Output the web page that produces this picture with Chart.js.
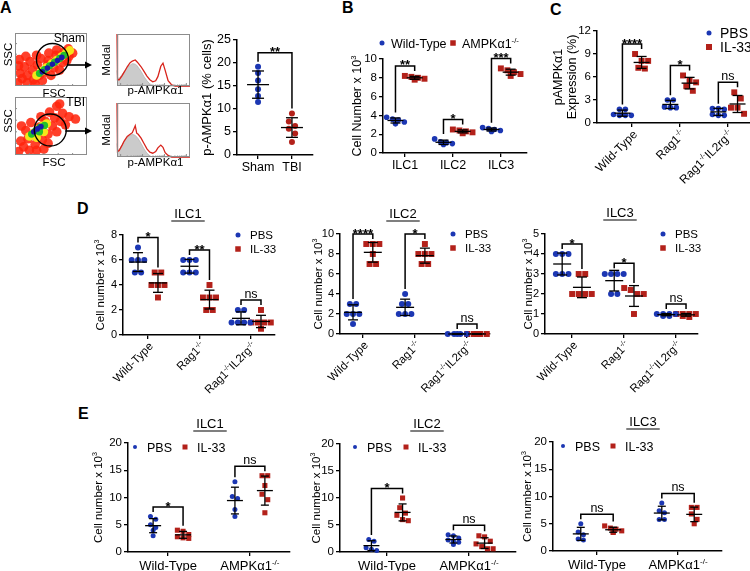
<!DOCTYPE html>
<html>
<head>
<meta charset="utf-8">
<title>AMPKa1 in ILCs</title>
<script src="https://cdn.jsdelivr.net/npm/chart.js@4.4.1/dist/chart.umd.min.js"></script>
<style>
    html, body { margin: 0; padding: 0; background: #fff; }
    body { position: relative; width: 750px; height: 571px; overflow: hidden; }
    canvas { position: absolute; left: 0; top: 0; }
    .panel { position: absolute; font: bold 16px "Liberation Sans", Arial, sans-serif; line-height: 16px; }
</style>
</head>
<body>
<div class="panel" style="left:0px;top:0px">A</div>
<div class="panel" style="left:342px;top:0px">B</div>
<div class="panel" style="left:550px;top:2px">C</div>
<div class="panel" style="left:77px;top:201px">D</div>
<div class="panel" style="left:78px;top:406px">E</div>
<script>
'use strict';

// ---------- A ----------
var aCats = ['Sham', 'TBI'];
var aSham = [19.2, 17.8, 16.2, 14.3, 12.8, 11.5];
var aTbi = [9.0, 7.3, 6.3, 5.7, 4.7, 2.8];
var aSig = ['**'];

// flow density blobs (x, y in % of plot)
var shamBlue = [[38, 27], [45, 34], [52, 41], [59, 48], [65, 54]];
var shamGreen = [[34, 24], [41, 31], [48, 38], [55, 45], [62, 52], [68, 58]];
var shamYellow = [[30, 20], [37, 28], [44, 35], [51, 42], [58, 49], [65, 56], [71, 62], [76, 67]];
var shamRedDots = [[4, 6], [10, 14], [17, 6], [7, 24], [17, 20], [26, 12], [24, 30], [34, 20], [13, 36], [31, 40],
    [42, 26], [46, 48], [54, 34], [57, 58], [66, 44], [68, 64], [75, 56], [74, 70], [38, 10], [50, 20], [62, 30],
    [72, 48], [36, 52], [47, 62], [58, 68], [21, 46], [28, 4], [5, 38], [45, 40], [6, 50], [15, 56], [30, 58], [80, 62]];
var shamGate = [52, 50];

var tbiBlue = [[26, 40], [31, 45], [36, 49]];
var tbiGreen = [[23, 36], [29, 42], [35, 48], [41, 51], [34, 40]];
var tbiYellow = [[20, 32], [26, 38], [32, 44], [38, 50], [44, 54], [30, 30], [40, 40]];
var tbiRedDots = [[5, 6], [12, 14], [20, 8], [8, 24], [18, 28], [28, 18], [26, 36], [38, 26], [15, 42], [34, 48],
    [46, 36], [42, 58], [52, 50], [55, 64], [63, 58], [66, 72], [75, 66], [30, 8], [46, 20], [58, 40], [70, 52],
    [84, 62], [48, 74], [58, 84], [9, 50], [22, 56], [40, 10], [36, 66], [62, 88]];
var tbiGate = [49, 43];

// histograms (x in % of axis, y in % of max)
var histX    = [0, 0.7, 3, 7, 10, 14, 18, 21, 25, 27, 29, 33, 37, 41, 45, 49, 53, 56, 60, 63, 66, 70, 75, 80, 100];
var shamRed  = [100, 12, 12, 20, 27, 37, 45, 48, 50, 47, 44, 37, 28, 19, 12, 8, 10, 18, 38, 44, 30, 10, 2, 0, 0];
var shamGray = [30, 15, 15, 22, 28, 35, 40, 43, 42, 40, 36, 28, 18, 10, 4, 1, 0, 0, 0, 0, 0, 0, 0, 0, 0];
var tbiRed   = [100, 10, 12, 22, 30, 38, 42, 45, 58, 44, 42, 35, 25, 15, 9, 7, 10, 17, 22, 18, 8, 3, 0, 0, 0];
var tbiGray  = [25, 12, 14, 22, 30, 36, 40, 42, 40, 37, 34, 25, 15, 7, 2, 0, 0, 0, 0, 0, 0, 0, 0, 0, 0];

// ---------- B ----------
var bCats = ['ILC1', 'ILC2', 'ILC3'];
var bWt = [[3.8, 3.6, 3.5, 3.3, 3.1], [1.5, 1.2, 1.1, 1.0, 0.9], [2.7, 2.6, 2.5, 2.4, 2.3]];
var bAmpk = [[8.2, 8.1, 8.0, 7.9, 7.8], [2.5, 2.4, 2.3, 2.2, 2.1], [9.0, 8.8, 8.6, 8.4, 8.2]];
var bSig = ['**', '*', '***'];

// ---------- C ----------
var cCats = ['Wild-Type', 'Rag1^{-/-}', 'Rag1^{-/-}IL2rg^{-/-}'];
var cPbs = [[1.8, 1.8, 1.1, 1.0, 1.0, 1.0], [3.0, 3.0, 2.1, 2.0, 2.0], [1.9, 1.9, 1.8, 1.1, 1.0, 1.0]];
var cIl33 = [[9.0, 8.1, 8.1, 7.2, 7.1], [6.2, 5.5, 5.3, 4.8, 4.2], [4.0, 3.2, 2.0, 2.0, 1.2]];
var cSig = ['****', '*', 'ns'];

// ---------- D ----------
var dCats = ['Wild-Type', 'Rag1^{-/-}', 'Rag1^{-/-}IL2rg^{-/-}'];
var dIlc1Pbs = [[7, 6, 6, 6, 5, 5], [6, 6, 6, 5, 5, 5], [2, 2, 1, 1, 1, 1]];
var dIlc1Il33 = [[5, 5, 4, 4, 4, 3], [4, 3, 3, 3, 2, 2], [2, 1, 1, 1, 1, 0.5]];
var dIlc1Sig = ['*', '**', 'ns'];
var dIlc2Pbs = [[3, 3, 2, 2, 2, 1], [4, 3, 3, 2, 2, 2], [0, 0, 0, 0, 0]];
var dIlc2Il33 = [[9, 9, 9, 8, 7, 7], [9, 8, 8, 8, 7, 7], [0, 0, 0, 0, 0]];
var dIlc2Sig = ['****', '*', 'ns'];
var dIlc3Pbs = [[4, 4, 4, 3, 3, 3], [3, 3, 3, 3, 2, 2], [1, 1, 1, 1, 0.9, 0.9]];
var dIlc3Il33 = [[3, 3, 2, 2, 2, 2], [2.3, 2.2, 2, 2, 1], [1, 1, 1, 1, 0.9, 0.85]];
var dIlc3Sig = ['*', '*', 'ns'];

// ---------- E ----------
var eCats = ['Wild-Type', 'AMPKα1^{-/-}'];
var eIlc1Pbs = [[6.5, 6.0, 5.0, 4.5, 4.0, 3.0], [12.9, 10.2, 9.8, 7.8, 6.5]];
var eIlc1Il33 = [[4.0, 3.8, 3.2, 2.8, 2.6, 2.5], [14.0, 14.0, 12.2, 10.6, 9.6, 7.2]];
var eIlc1Sig = ['*', 'ns'];
var eIlc2Pbs = [[2.3, 2.0, 0.8, 0.5, 0.3], [3.2, 3.0, 2.6, 2.2, 2.0, 1.8, 1.4]];
var eIlc2Il33 = [[10.0, 8.2, 7.2, 6.8, 6.0, 5.8], [3.0, 2.8, 2.0, 1.5, 1.0, 0.6, 0.6]];
var eIlc2Sig = ['*', 'ns'];
var eIlc3Pbs = [[5.0, 3.5, 3.0, 2.2, 2.0], [8.8, 7.4, 7.0, 5.8, 5.8]];
var eIlc3Il33 = [[4.6, 4.2, 4.0, 3.7, 3.5, 3.4], [8.0, 8.0, 6.8, 5.8, 5.0]];
var eIlc3Sig = ['ns', 'ns'];

var W = 750, H = 571;
var FONT = '"Liberation Sans", Arial, Helvetica, sans-serif';
var BLUE = '#1c37b3';
var RED = '#b3211a';

function pageCanvas() {
    var cv = document.createElement('canvas');
    cv.width = W;
    cv.height = H;
    cv.style.width = W + 'px';
    cv.style.height = H + 'px';
    document.body.appendChild(cv);
    return cv;
}

function font(size, weight) {
    return (weight || 'normal') + ' ' + size + 'px ' + FONT;
}

function richParts(s) {
    var parts = [], re = /\^\{([^}]*)\}/g, last = 0, m;
    while ((m = re.exec(s))) {
        if (m.index > last) parts.push({t: s.slice(last, m.index), sup: false});
        parts.push({t: m[1], sup: true});
        last = re.lastIndex;
    }
    if (last < s.length) parts.push({t: s.slice(last), sup: false});
    return parts;
}

function drawRich(ctx, s, x, y, size, align, weight) {
    var parts = richParts(s);
    var total = 0;
    parts.forEach(function(p) {
        ctx.font = font(p.sup ? size * 0.62 : size, weight);
        p.w = ctx.measureText(p.t).width;
        total += p.w;
    });
    var cx = align === 'center' ? x - total / 2 : (align === 'right' ? x - total : x);
    ctx.textAlign = 'left';
    ctx.textBaseline = 'alphabetic';
    parts.forEach(function(p) {
        ctx.font = font(p.sup ? size * 0.62 : size, weight);
        ctx.fillText(p.t, cx, p.sup ? y - size * 0.4 : y);
        cx += p.w;
    });
    return total;
}

function line(ctx, x1, y1, x2, y2) {
    ctx.beginPath();
    ctx.moveTo(x1, y1);
    ctx.lineTo(x2, y2);
    ctx.stroke();
}

function marker(ctx, shape, x, y, size, color) {
    ctx.fillStyle = color;
    if (shape === 'rect') {
        ctx.fillRect(x - size / 2, y - size / 2, size, size);
    } else {
        ctx.beginPath();
        ctx.arc(x, y, size / 2, 0, Math.PI * 2);
        ctx.fill();
    }
}

function stats(v) {
    var m = 0, s = 0;
    v.forEach(function(a) { m += a; });
    m /= v.length;
    v.forEach(function(a) { s += (a - m) * (a - m); });
    return {mean: m, sd: Math.sqrt(s / (v.length - 1)), max: Math.max.apply(null, v)};
}

// lay points with (nearly) equal values side by side, like a dot plot
function spread(vals, r, pxY, step) {
    var v = vals.slice().sort(function(a, b) { return b - a; });
    var out = [];
    var i = 0;
    while (i < v.length) {
        var row = [v[i]];
        var j = i + 1;
        while (j < v.length && (v[i] - v[j]) * pxY < r * 1.7) {
            row.push(v[j]);
            j++;
        }
        for (var c = 0; c < row.length; c += 4) {
            var chunk = row.slice(c, c + 4);
            chunk.forEach(function(val, k) {
                out.push({v: val, dx: (k - (chunk.length - 1) / 2) * step});
            });
        }
        i = j;
    }
    return out;
}

function baseOpts(pad, scales) {
    return {
        responsive: false,
        animation: false,
        events: [],
        devicePixelRatio: 1,
        layout: {autoPadding: false, padding: pad},
        plugins: {legend: {display: false}, tooltip: {enabled: false}},
        scales: scales
    };
}

function boxPad(b) {
    return {left: b[0], top: b[1], right: W - b[2], bottom: H - b[3]};
}

function hiddenScales() {
    return {
        x: {type: 'linear', display: false, min: 0, max: 100},
        y: {type: 'linear', display: false, min: 0, max: 100}
    };
}

function xy(arr) {
    return arr.map(function(p) { return {x: p[0], y: p[1]}; });
}

var axisGrid = {display: true, drawOnChartArea: false, drawTicks: true, tickLength: 4, color: '#000', lineWidth: 1.3};
var axisBorder = {display: true, color: '#000', width: 1.5};

function flowChart(o) {
    var ds = [{data: xy([o.gate]), pointRadius: o.gateR, pointHoverRadius: o.gateR,
        backgroundColor: 'rgba(0,0,0,0)', borderColor: '#000', borderWidth: 1.4, clip: false}];
    o.layers.forEach(function(l) {
        ds.push({data: xy(l[0]), pointRadius: l[1], pointHoverRadius: l[1], backgroundColor: l[2], borderWidth: 0, clip: 0});
    });
    new Chart(pageCanvas(), {
        type: 'scatter',
        data: {datasets: ds},
        options: baseOpts(boxPad(o.box), hiddenScales()),
        plugins: [{
            id: 'flowDecor',
            afterDraw: function(chart) {
                var ctx = chart.ctx;
                var a = chart.chartArea;
                ctx.save();
                ctx.strokeStyle = '#8c8c8c';
                ctx.lineWidth = 1;
                ctx.strokeRect(a.left + 0.5, a.top + 0.5, a.right - a.left - 1, a.bottom - a.top - 1);
                for (var t = 1; t < 5; t++) {
                    var tx = a.left + (a.right - a.left) * t / 5;
                    var ty = a.bottom - (a.bottom - a.top) * t / 5;
                    line(ctx, tx, a.bottom, tx, a.bottom - 2);
                    line(ctx, a.left, ty, a.left + 2, ty);
                }
                var g = chart.getDatasetMeta(0).data[0];
                ctx.strokeStyle = '#000';
                ctx.fillStyle = '#000';
                ctx.lineWidth = 1.6;
                line(ctx, g.x + o.gateR - 1, o.arrowY, o.arrowX - 5, o.arrowY);
                ctx.beginPath();
                ctx.moveTo(o.arrowX, o.arrowY);
                ctx.lineTo(o.arrowX - 7, o.arrowY - 3.5);
                ctx.lineTo(o.arrowX - 7, o.arrowY + 3.5);
                ctx.closePath();
                ctx.fill();
                ctx.font = font(12);
                ctx.textAlign = 'right';
                ctx.textBaseline = 'middle';
                ctx.fillText(o.name, a.right - 2, a.top + 6);
                ctx.font = font(11.5);
                ctx.textAlign = 'center';
                ctx.fillText('FSC', (a.left + a.right) / 2 + 3, a.bottom + 8);
                ctx.save();
                ctx.translate(9, (a.top + a.bottom) / 2 - 5);
                ctx.rotate(-Math.PI / 2);
                ctx.fillText('SSC', 0, 0);
                ctx.restore();
                ctx.restore();
            }
        }]
    });
}

function histChart(o) {
    function pts(arr) {
        return histX.map(function(x, i) { return {x: x, y: arr[i]}; });
    }
    new Chart(pageCanvas(), {
        type: 'line',
        data: {datasets: [
            {data: pts(o.red), borderColor: '#d8231b', borderWidth: 1.3, pointRadius: 0, fill: false, tension: 0, clip: 2},
            {data: pts(o.gray), borderColor: '#b4b4b4', backgroundColor: '#cbcbcb', borderWidth: 0.8,
                pointRadius: 0, fill: 'origin', tension: 0, clip: 2}
        ]},
        options: baseOpts(boxPad(o.box), hiddenScales()),
        plugins: [{
            id: 'histDecor',
            afterDraw: function(chart) {
                var ctx = chart.ctx;
                var a = chart.chartArea;
                var xs = chart.scales.x;
                ctx.save();
                ctx.strokeStyle = '#8c8c8c';
                ctx.lineWidth = 1;
                ctx.strokeRect(a.left + 0.5, a.top + 0.5, a.right - a.left - 1, a.bottom - a.top - 1);
                // log-style axis ticks
                for (var d = 0; d < 4; d++) {
                    for (var k = 1; k < 10; k++) {
                        var v = 5 + d * 30 + Math.log10(k) * 30;
                        if (v > 99) continue;
                        var px = xs.getPixelForValue(v);
                        line(ctx, px, a.bottom, px, a.bottom - (k === 1 ? 3 : 1.5));
                    }
                }
                ctx.fillStyle = '#000';
                ctx.font = font(11.5);
                ctx.textAlign = 'center';
                ctx.textBaseline = 'middle';
                ctx.fillText('p-AMPKα1', (a.left + a.right) / 2 + 2, o.labelY);
                ctx.save();
                ctx.translate(a.left - 10, (a.top + a.bottom) / 2);
                ctx.rotate(-Math.PI / 2);
                ctx.fillText('Modal', 0, 0);
                ctx.restore();
                ctx.restore();
            }
        }]
    });
}

function dotDecor(o) {
    return {
        id: 'dotDecor',
        afterDraw: function(chart) {
            var ctx = chart.ctx;
            var xs = chart.scales.x;
            var ys = chart.scales.y;
            var area = chart.chartArea;
            ctx.save();
            ctx.strokeStyle = '#000';
            ctx.fillStyle = '#000';
            ctx.lineWidth = 1.3;

            // mean +/- SD
            var tops = o.series.map(function(s) {
                return s.groups.map(function(vals, gi) {
                    var st = stats(vals);
                    var px = xs.getPixelForValue(s.start + gi + s.offset);
                    var yt = ys.getPixelForValue(st.mean + st.sd);
                    var yb = ys.getPixelForValue(st.mean - st.sd);
                    var ym = ys.getPixelForValue(st.mean);
                    line(ctx, px - o.eb[0], ym, px + o.eb[0], ym);
                    line(ctx, px, yt, px, yb);
                    line(ctx, px - o.eb[1], yt, px + o.eb[1], yt);
                    line(ctx, px - o.eb[1], yb, px + o.eb[1], yb);
                    var half = s.shape === 'rect' ? s.r * Math.SQRT1_2 : s.r;
                    return {x: px, y: Math.min(yt, ys.getPixelForValue(st.max) - half) - 2};
                });
            });

            // significance brackets
            o.sig.forEach(function(txt, i) {
                var a = tops[0][i];
                var b = tops[1][i];
                var y = Math.min(a.y, b.y) - o.gap;
                ctx.lineWidth = 1.5;
                ctx.beginPath();
                ctx.moveTo(a.x, a.y);
                ctx.lineTo(a.x, y);
                ctx.lineTo(b.x, y);
                ctx.lineTo(b.x, b.y);
                ctx.stroke();
                ctx.textAlign = 'center';
                ctx.textBaseline = 'alphabetic';
                if (txt === 'ns') {
                    ctx.font = font(12.5);
                    ctx.fillText(txt, (a.x + b.x) / 2, y - 2.5);
                } else {
                    ctx.font = font(13, 'bold');
                    ctx.fillText(txt, (a.x + b.x) / 2, y + 3.5);
                }
            });

            // category labels
            o.cats.forEach(function(c, i) {
                var px = xs.getPixelForValue(i);
                if (o.rot) {
                    ctx.save();
                    ctx.translate(px + 3, area.bottom + 9);
                    ctx.rotate(-Math.PI / 4);
                    drawRich(ctx, c, 0, o.labelSize * 0.35, o.labelSize, 'right');
                    ctx.restore();
                } else {
                    drawRich(ctx, c, px, area.bottom + o.labelDy, o.labelSize, 'center');
                }
            });

            // y title
            var cy = (area.top + area.bottom) / 2;
            o.yTitle.lines.forEach(function(s, i) {
                ctx.save();
                ctx.translate(o.yTitle.x[i], cy);
                ctx.rotate(-Math.PI / 2);
                drawRich(ctx, s, 0, o.yTitle.size * 0.35, o.yTitle.size, 'center');
                ctx.restore();
            });

            if (o.title) {
                ctx.font = font(o.title.size);
                ctx.textAlign = 'center';
                ctx.textBaseline = 'middle';
                ctx.fillText(o.title.text, o.title.x, o.title.y);
                var tw = ctx.measureText(o.title.text).width;
                ctx.lineWidth = 1.2;
                line(ctx, o.title.x - tw / 2 - 3, o.title.y + 7, o.title.x + tw / 2 + 3, o.title.y + 7);
            }

            if (o.legend) {
                o.series.forEach(function(s, i) {
                    var p = o.legend.pos[i];
                    marker(ctx, s.shape, p[0], p[1], s.shape === 'rect' ? o.legend.sq : o.legend.dot, s.color);
                    ctx.fillStyle = '#000';
                    drawRich(ctx, s.name, p[0] + o.legend.gap, p[1] + o.legend.size * 0.36, o.legend.size, 'left');
                });
            }
            ctx.restore();
        }
    };
}

function dotChart(o) {
    var pxX = (o.box[2] - o.box[0]) / (o.x[1] - o.x[0]);
    var pxY = (o.box[3] - o.box[1]) / (o.y[1] - o.y[0]);
    var datasets = o.series.map(function(s) {
        var pts = [];
        s.groups.forEach(function(vals, gi) {
            spread(vals, s.r, pxY, s.step).forEach(function(p) {
                pts.push({x: s.start + gi + s.offset + p.dx / pxX, y: p.v});
            });
        });
        return {data: pts, pointStyle: s.shape, pointRadius: s.r, pointHoverRadius: s.r,
            backgroundColor: s.color, borderColor: s.color, borderWidth: 0, clip: false};
    });
    new Chart(pageCanvas(), {
        type: 'scatter',
        data: {datasets: datasets},
        options: baseOpts({left: o.box[0] - 30, top: o.box[1], right: W - o.box[2], bottom: H - o.box[3] - 5}, {
            x: {
                type: 'linear', min: o.x[0], max: o.x[1],
                afterBuildTicks: function(sc) { sc.ticks = o.cats.map(function(c, i) { return {value: i}; }); },
                afterFit: function(sc) { sc.height = 5; },
                ticks: {display: false},
                grid: axisGrid,
                border: axisBorder
            },
            y: {
                type: 'linear', min: o.y[0], max: o.y[1],
                afterFit: function(sc) { sc.width = 30; },
                ticks: {stepSize: o.y[2], color: '#000', padding: 2, font: {family: FONT, size: o.tickSize}},
                grid: axisGrid,
                border: axisBorder
            }
        }),
        plugins: [dotDecor(o)]
    });
}

function pair(first, second, names, off, rDot, rSq) {
    return [
        {name: names[0], groups: first, start: 0, offset: -off, color: BLUE, shape: 'circle', r: rDot, step: rDot * 2 + 0.3},
        {name: names[1], groups: second, start: 0, offset: off, color: RED, shape: 'rect', r: rSq, step: rSq * 1.414 + 0.6}
    ];
}

// ---------- draw A ----------
var RED_DOT = 'rgba(255,38,14,0.88)';
flowChart({box: [15, 33, 87, 86], name: 'Sham', gate: shamGate, gateR: 16, arrowX: 92, arrowY: 65,
    layers: [[shamBlue, 2.8, '#1a1aa8'], [shamGreen, 3.6, '#22c02a'], [shamYellow, 4.4, '#f5e51a'], [shamRedDots, 4.8, RED_DOT]]});
flowChart({box: [15, 97, 87, 155], name: 'TBI', gate: tbiGate, gateR: 16, arrowX: 92, arrowY: 131,
    layers: [[tbiBlue, 2.8, '#1a1aa8'], [tbiGreen, 3.6, '#22c02a'], [tbiYellow, 4.4, '#f5e51a'], [tbiRedDots, 4.8, RED_DOT]]});
histChart({box: [117, 34, 190, 86], red: shamRed, gray: shamGray, labelY: 91});
histChart({box: [117, 103, 190, 157], red: tbiRed, gray: tbiGray, labelY: 163});

dotChart({
    box: [237, 40, 313, 155], x: [-0.62, 1.62], y: [0, 25, 5], tickSize: 12.5,
    cats: aCats, rot: false, labelSize: 12.5, labelDy: 16,
    series: [
        {name: 'Sham', groups: [aSham], start: 0, offset: 0, color: BLUE, shape: 'circle', r: 3, step: 6.3},
        {name: 'TBI', groups: [aTbi], start: 1, offset: 0, color: RED, shape: 'circle', r: 3, step: 6.3}
    ],
    eb: [11, 6], gap: 9, sig: aSig,
    yTitle: {lines: ['p-AMPKα1 (% cells)'], x: [206], size: 13}
});

// ---------- draw B ----------
dotChart({
    box: [383, 59, 527, 153], x: [-0.46, 2.54], y: [0, 10, 2], tickSize: 11.5,
    cats: bCats, rot: false, labelSize: 12.5, labelDy: 16,
    series: pair(bWt, bAmpk, ['Wild-Type', 'AMPKα1^{-/-}'], 0.2, 2.8, 4.2),
    eb: [8, 5], gap: 5, sig: bSig,
    yTitle: {lines: ['Cell Number x 10^{3}'], x: [357], size: 12.5},
    legend: {pos: [[382, 43], [453, 43]], size: 12.5, dot: 5, sq: 5.5, gap: 9}
});

// ---------- draw C ----------
dotChart({
    box: [597, 31, 750, 123], x: [-0.73, 2.46], y: [0, 12, 3], tickSize: 11.5,
    cats: cCats, rot: true, labelSize: 12,
    series: pair(cPbs, cIl33, ['PBS', 'IL-33'], 0.2, 2.8, 4.2),
    eb: [8, 5], gap: 5, sig: cSig,
    yTitle: {lines: ['pAMPKα1', 'Expression (%)'], x: [558, 572], size: 12.5},
    legend: {pos: [[709, 33], [709, 47]], size: 14, dot: 5, sq: 6, gap: 11}
});

// ---------- draw D ----------
dotChart({
    box: [123, 235, 275, 335], x: [-0.485, 2.466], y: [0, 8, 2], tickSize: 11,
    cats: dCats, rot: true, labelSize: 11.5,
    series: pair(dIlc1Pbs, dIlc1Il33, ['PBS', 'IL-33'], 0.194, 3, 4.2),
    eb: [9, 5], gap: 5, sig: dIlc1Sig,
    yTitle: {lines: ['Cell number x 10^{3}'], x: [100], size: 11.5},
    title: {text: 'ILC1', x: 188, y: 214, size: 13},
    legend: {pos: [[238, 235], [238, 249]], size: 11.5, dot: 5, sq: 5.5, gap: 12}
});
dotChart({
    box: [340, 234, 490, 334], x: [-0.44, 2.44], y: [0, 10, 2], tickSize: 11,
    cats: dCats, rot: true, labelSize: 11.5,
    series: pair(dIlc2Pbs, dIlc2Il33, ['PBS', 'IL-33'], 0.19, 3, 4.2),
    eb: [9, 5], gap: 5, sig: dIlc2Sig,
    yTitle: {lines: ['Cell number x 10^{3}'], x: [318], size: 11.5},
    title: {text: 'ILC2', x: 403, y: 214, size: 13},
    legend: {pos: [[453, 234], [453, 248]], size: 11.5, dot: 5, sq: 5.5, gap: 12}
});
dotChart({
    box: [545, 234, 698, 334], x: [-0.52, 2.42], y: [0, 5, 1], tickSize: 11,
    cats: dCats, rot: true, labelSize: 11.5,
    series: pair(dIlc3Pbs, dIlc3Il33, ['PBS', 'IL-33'], 0.19, 3, 4.2),
    eb: [9, 5], gap: 5, sig: dIlc3Sig,
    yTitle: {lines: ['Cell number x 10^{3}'], x: [528], size: 11.5},
    title: {text: 'ILC3', x: 620, y: 213, size: 13},
    legend: {pos: [[663, 234], [663, 248]], size: 11.5, dot: 5, sq: 5.5, gap: 12}
});

// ---------- draw E ----------
dotChart({
    box: [128, 443, 290, 552], x: [-0.49, 1.49], y: [0, 20, 5], tickSize: 11.5,
    cats: eCats, rot: false, labelSize: 13, labelDy: 18,
    series: pair(eIlc1Pbs, eIlc1Il33, ['PBS', 'IL-33'], 0.183, 2.5, 3.6),
    eb: [8, 4], gap: 5, sig: eIlc1Sig,
    yTitle: {lines: ['Cell number x 10^{3}'], x: [98], size: 11.5},
    title: {text: 'ILC1', x: 210, y: 424, size: 13},
    legend: {pos: [[135, 447], [185, 447]], size: 12.5, dot: 4, sq: 5, gap: 12}
});
dotChart({
    box: [340, 444, 516, 552], x: [-0.573, 1.573], y: [0, 20, 5], tickSize: 11.5,
    cats: eCats, rot: false, labelSize: 13, labelDy: 18,
    series: pair(eIlc2Pbs, eIlc2Il33, ['PBS', 'IL-33'], 0.19, 2.5, 3.6),
    eb: [8, 4], gap: 5, sig: eIlc2Sig,
    yTitle: {lines: ['Cell number x 10^{3}'], x: [316], size: 11.5},
    title: {text: 'ILC2', x: 427, y: 424, size: 13},
    legend: {pos: [[355, 447], [406, 447]], size: 12.5, dot: 4, sq: 5, gap: 12}
});
dotChart({
    box: [553, 442, 722, 551], x: [-0.543, 1.543], y: [0, 20, 5], tickSize: 11.5,
    cats: eCats, rot: false, labelSize: 13, labelDy: 18,
    series: pair(eIlc3Pbs, eIlc3Il33, ['PBS', 'IL-33'], 0.2, 2.5, 3.6),
    eb: [8, 4], gap: 5, sig: eIlc3Sig,
    yTitle: {lines: ['Cell number x 10^{3}'], x: [527], size: 11.5},
    title: {text: 'ILC3', x: 643, y: 422, size: 13},
    legend: {pos: [[563, 446], [613, 446]], size: 12.5, dot: 4, sq: 5, gap: 12}
});
</script>
</body>
</html>
